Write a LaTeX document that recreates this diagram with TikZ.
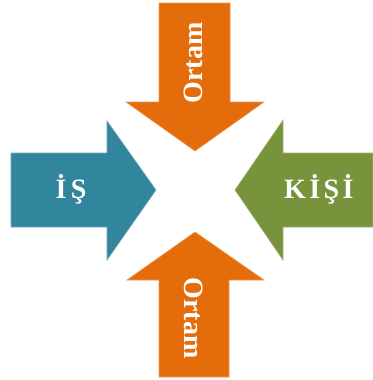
\documentclass[tikz,border=0pt]{standalone}
\usepackage{fontspec}
\setmainfont{Liberation Serif}
\definecolor{orng}{HTML}{E46C0A}
\definecolor{teal2}{HTML}{31859C}
\definecolor{grn}{HTML}{77933C}
\begin{document}
\begin{tikzpicture}[x=1pt,y=-1pt,
  arrowshape/.style={line width=0.6pt},
  lbl/.style={text=white,font=\bfseries\fontsize{28}{30}\selectfont,inner sep=0pt}]
\useasboundingbox (0,0) rectangle (372,380);
% top arrow (down)
\fill[orng,draw=orng!70!white,arrowshape] (159,3) -- (230,3) -- (230,102) -- (264,102) -- (195,151) -- (126,102) -- (159,102) -- cycle;
% bottom arrow (up)
\fill[orng,draw=orng!70!white,arrowshape] (159,377) -- (229,377) -- (229,280) -- (264,280) -- (195,232) -- (127,280) -- (159,280) -- cycle;
% left arrow (right)
\fill[teal2,draw=teal2!70!white,arrowshape] (11,153) -- (107,153) -- (107,121) -- (156,190) -- (107,260) -- (107,227) -- (11,227) -- cycle;
% right arrow (left)
\fill[grn,draw=grn!70!white,arrowshape] (373,153) -- (283,153) -- (283,120) -- (235,190) -- (283,260) -- (283,227) -- (373,227) -- cycle;
\node[lbl,rotate=90] (ortamtop) at (193,63) {Ortam};
\node[lbl,rotate=-90] (ortambot) at (194,318) {Ortam};
\node[lbl,anchor=base] (is) at (70,198) {\addfontfeature{LetterSpace=15}İŞ\kern-0.075em};
\node[lbl,anchor=base] (kisi) at (318,198) {\addfontfeature{LetterSpace=12}KİŞİ\kern-0.06em};
\end{tikzpicture}
\end{document}
